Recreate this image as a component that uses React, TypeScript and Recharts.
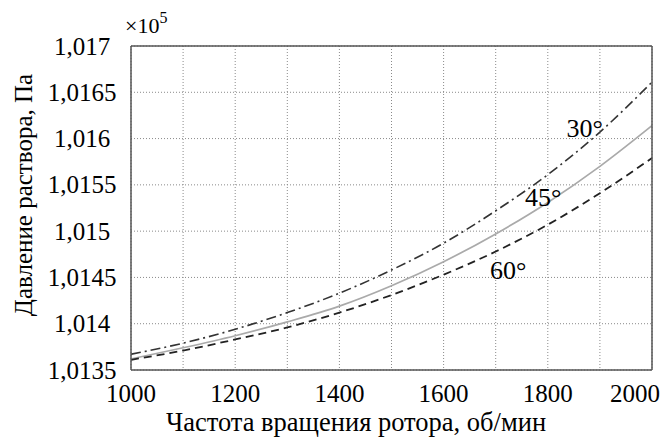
import React from 'react';
import { LineChart, Line, XAxis, YAxis, CartesianGrid, ReferenceDot, Label } from 'recharts';

const rpm = [1000, 1100, 1200, 1300, 1400, 1500, 1600, 1700, 1800, 1900, 2000];
const p30 = [1.01367, 1.01379, 1.01394, 1.01412, 1.01433, 1.01458, 1.01487, 1.01522, 1.01561, 1.01607, 1.01661];
const p45 = [1.01362, 1.01374, 1.01387, 1.01402, 1.01419, 1.01441, 1.01467, 1.01497, 1.01531, 1.0157, 1.01614];
const p60 = [1.01361, 1.01371, 1.01383, 1.01396, 1.01412, 1.01431, 1.01453, 1.01478, 1.01507, 1.01541, 1.01579];

const xTicks = [1000, 1100, 1200, 1300, 1400, 1500, 1600, 1700, 1800, 1900, 2000];
const yTicks = [1.0135, 1.014, 1.0145, 1.015, 1.0155, 1.016, 1.0165, 1.017];
const yTickLabels = ['1,0135', '1,014', '1,0145', '1,015', '1,0155', '1,016', '1,0165', '1,017'];

const annotations = [
  { text: '30°', x: 1871, y: 1.01612 },
  { text: '45°', x: 1791, y: 1.01537 },
  { text: '60°', x: 1724, y: 1.01458 },
];

const data = rpm.map((r, i) => ({ rpm: r, a30: p30[i], a45: p45[i], a60: p60[i] }));

const FONT = 'Liberation Serif';
const AXIS = '#555';

const XTick = (props: any) => {
  const { x, y, payload } = props;
  const v = payload.value;
  if (v % 200 !== 0) return null;
  const last = v === 2000;
  return (
    <text x={last ? x + 8 : x} y={y} dy="0.71em" textAnchor={last ? 'end' : 'middle'} fontFamily={FONT} fontSize={25} fill="#000">
      {v}
    </text>
  );
};

const YTick = (props: any) => {
  const { x, y, payload } = props;
  const idx = yTicks.findIndex((t) => Math.abs(t - payload.value) < 1e-9);
  return (
    <text x={x - 49} y={y} dy="0.34em" textAnchor="middle" fontFamily={FONT} fontSize={25} fill="#000">
      {idx >= 0 ? yTickLabels[idx] : ''}
    </text>
  );
};

export default function App() {
  return (
    <div style={{ position: 'absolute', left: 0, top: 0, width: 668, height: 437, background: '#fff' }}>
      <LineChart width={668} height={437} data={data} margin={{ top: 46, right: 16, bottom: 0, left: 0 }}>
        <CartesianGrid stroke="#8a8a8a" strokeDasharray="1 2" strokeWidth={1} />
        <XAxis
          dataKey="rpm"
          type="number"
          domain={[1000, 2000]}
          ticks={xTicks}
          height={67}
          tickLine={false}
          tickSize={0}
          tickMargin={14}
          axisLine={{ stroke: AXIS, strokeWidth: 1.5 }}
          tick={<XTick />}
          interval={0}
        >
          <Label
            content={(p: any) => {
              const vb = p.viewBox;
              return (
                <text x={356} y={vb.y + 61} textAnchor="middle" fontFamily={FONT} fontSize={26.5} fill="#000">
                  Частота вращения ротора, об/мин
                </text>
              );
            }}
          />
        </XAxis>
        <XAxis xAxisId="top" orientation="top" mirror type="number" dataKey="rpm" domain={[1000, 2000]} ticks={xTicks} tick={false} tickSize={5} tickLine={{ stroke: AXIS }} axisLine={{ stroke: AXIS, strokeWidth: 1.5 }} interval={0} />
        <XAxis xAxisId="bot" orientation="bottom" mirror type="number" dataKey="rpm" domain={[1000, 2000]} ticks={xTicks} tick={false} tickSize={5} tickLine={{ stroke: AXIS }} axisLine={false} interval={0} />
        <YAxis
          type="number"
          domain={[1.0135, 1.017]}
          ticks={yTicks}
          width={131}
          tickLine={false}
          tickSize={0}
          tickMargin={0}
          axisLine={{ stroke: AXIS, strokeWidth: 1.5 }}
          tick={<YTick />}
          interval={0}
          allowDataOverflow
        >
          <Label
            content={(p: any) => {
              const vb = p.viewBox;
              const cx = vb.x + 23;
              const cy = vb.y + 149;
              return (
                <text x={cx} y={cy} transform={`rotate(-90 ${cx} ${cy})`} textAnchor="middle" dy="0.34em" fontFamily={FONT} fontSize={25} fill="#000">
                  Давление раствора, Па
                </text>
              );
            }}
          />
          <Label
            content={(p: any) => {
              const vb = p.viewBox;
              return (
                <text x={vb.x + vb.width - 6} y={vb.y - 13} fontFamily={FONT} fontSize={22} fill="#000">
                  ×10
                  <tspan dy={-10} fontSize={16}>5</tspan>
                </text>
              );
            }}
          />
        </YAxis>
        <YAxis yAxisId="right" orientation="right" mirror type="number" domain={[1.0135, 1.017]} ticks={yTicks} tick={false} tickSize={5} tickLine={{ stroke: AXIS }} axisLine={{ stroke: AXIS, strokeWidth: 1.5 }} interval={0} />
        <YAxis yAxisId="lt" orientation="left" mirror type="number" domain={[1.0135, 1.017]} ticks={yTicks} tick={false} tickSize={5} tickLine={{ stroke: AXIS }} axisLine={false} interval={0} />
        <Line dataKey="a30" type="monotone" stroke="#333" strokeWidth={1.6} strokeDasharray="10 4 2 4" dot={false} isAnimationActive={false} />
        <Line dataKey="a45" type="monotone" stroke="#aaa" strokeWidth={1.7} dot={false} isAnimationActive={false} />
        <Line dataKey="a60" type="monotone" stroke="#222" strokeWidth={1.8} strokeDasharray="8 5" dot={false} isAnimationActive={false} />
        {annotations.map((a) => (
          <ReferenceDot
            key={a.text}
            x={a.x}
            y={a.y}
            r={0}
            fill="none"
            stroke="none"
            label={{ value: a.text, position: 'center', fill: '#000', fontFamily: FONT, fontSize: 26 }}
          />
        ))}
      </LineChart>
    </div>
  );
}
